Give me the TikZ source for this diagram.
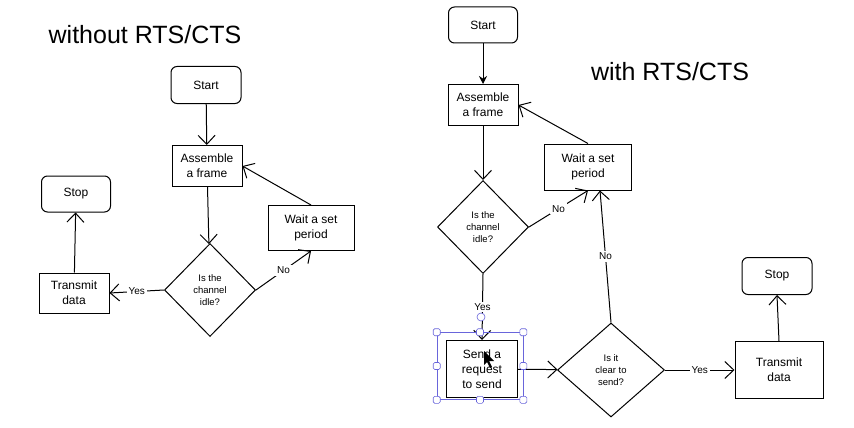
\documentclass[tikz,border=0pt]{standalone}
\usepackage{fontspec}
\setmainfont{Liberation Sans}
\usetikzlibrary{shapes.geometric,arrows.meta}
\definecolor{selblue}{RGB}{105,101,219}
\begin{document}
\begin{tikzpicture}[x=1pt,y=-1pt,line width=1pt,
        box/.style={draw,align=center,font=\fontsize{12}{15}\selectfont,inner sep=2pt},
        term/.style={box,rounded corners=6pt},
        decide/.style={draw,diamond,align=center,font=\fontsize{9.5}{12}\selectfont,inner sep=0pt},
        flow/.style={-{Straight Barb[length=9pt,width=17pt]}},
        lbl/.style={fill=white,font=\fontsize{10}{12}\selectfont,inner sep=2pt},
        handle/.style={draw=selblue,fill=white,line width=0.6pt,rounded corners=1.5pt,minimum size=7pt,inner sep=0pt}]
        \useasboundingbox (0,0) rectangle (854,428);
        \node[font=\fontsize{25}{30}\selectfont] (title1) at (145,35) {without RTS/CTS};
        \node[term,minimum width=70pt,minimum height=37pt] (start1) at (206,85) {Start};
        \node[box,minimum width=70pt,minimum height=41pt] (asm1) at (207,166) {Assemble\\a frame};
        \node[term,minimum width=69pt,minimum height=36pt] (stop1) at (76,194) {Stop};
        \node[box,minimum width=86pt,minimum height=45pt] (wait1) at (311,228) {Wait a set\\period};
        \node[decide,minimum width=91pt,minimum height=93pt] (idle1) at (210,290) {Is the\\channel\\idle?};
        \node[box,minimum width=70pt,minimum height=40pt] (tx1) at (74,293) {Transmit\\data};
        \draw[flow] (start1) -- (asm1);
        \draw[flow] (asm1) -- (idle1);
        \draw[flow] (wait1.north) -- (asm1.east);
        \draw[flow] (idle1.east) -- node[lbl] {No} (wait1.south);
        \draw[flow] (idle1.west) -- node[lbl] {Yes} (tx1.east);
        \draw[flow] (tx1) -- (stop1);
        \node[font=\fontsize{25}{30}\selectfont] (title2) at (670,72) {with RTS/CTS};
        \node[term,minimum width=69pt,minimum height=36pt] (start2) at (483,25) {Start};
        \node[box,minimum width=70pt,minimum height=41pt] (asm2) at (483,105) {Assemble\\a frame};
        \node[decide,minimum width=91pt,minimum height=93pt] (idle2) at (483,227) {Is the\\channel\\idle?};
        \node[box,minimum width=87pt,minimum height=46pt] (wait2) at (588,167) {Wait a set\\period};
        \node[box,minimum width=71pt,minimum height=57pt] (send) at (482,369) {Send a\\request\\to send};
        \node[decide,minimum width=107pt,minimum height=94pt] (clear) at (611,370) {Is it\\clear to\\send?};
        \node[box,minimum width=88pt,minimum height=57pt] (tx2) at (779,370) {Transmit\\data};
        \node[term,minimum width=70pt,minimum height=37pt] (stop2) at (777,276) {Stop};
        \draw[-{Stealth[length=8pt,width=8pt]}] (start2) -- (asm2);
        \draw[flow] (asm2) -- (idle2);
        \draw[flow] (wait2.north) -- (asm2.east);
        \draw[flow] (idle2.east) -- node[lbl] {No} (wait2.south);
        \draw[flow] (idle2.south) -- node[lbl] {Yes} (send.north);
        \draw[flow] (clear.north) -- node[lbl] {No} ([xshift=12pt]wait2.south);
        \draw[flow] (send) -- (clear);
        \draw[flow] (clear.east) -- node[lbl] {Yes} (tx2.west);
        \draw[flow] (tx2.north) -- (stop2.south);
        \node[draw=selblue,line width=0.6pt,minimum width=86pt,minimum height=67pt] (sel) at (480,366) {};
        \foreach \a in {north west,north,north east,east,south east,south,south west,west}
            \node[handle] at (sel.\a) {};
        \node[draw=selblue,fill=white,line width=0.6pt,circle,minimum size=8pt,inner sep=0pt] (rot) at (481,317) {};
        \fill (484,351) -- (484,365) -- (487,362) -- (490,368) -- (492,367) -- (489,361) -- (494,361) -- cycle;
    \end{tikzpicture}
\end{document}
